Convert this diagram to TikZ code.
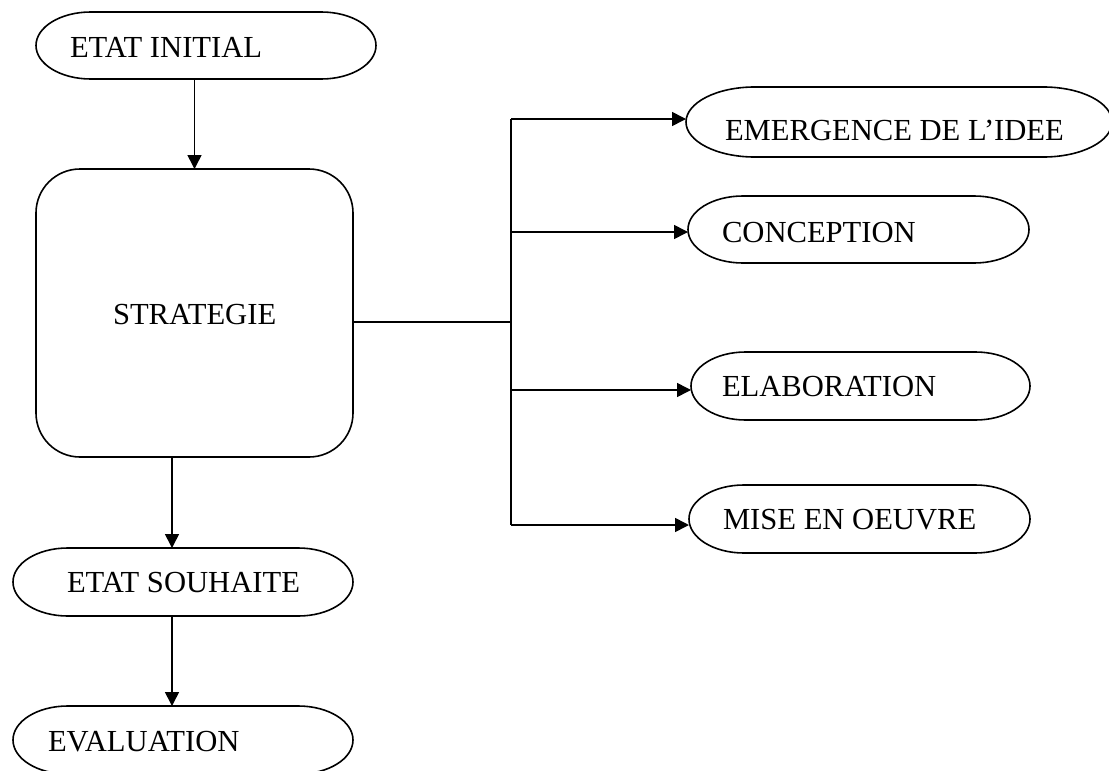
\documentclass[tikz,border=0pt]{standalone}
\usepackage{fontspec}
\setmainfont{Liberation Serif}
\usetikzlibrary{arrows.meta,calc}

\tikzset{
  term/.style={draw=none, rectangle, inner sep=0pt, outer sep=0pt},
  txt/.style={anchor=west, inner sep=0pt, outer sep=0pt, font=\fontsize{15.3}{18}\selectfont},
  wire/.style={line width=0.8pt, line join=miter},
  arr/.style={wire, -{Triangle[length=7pt,width=7pt]}},
  rbox/.style={draw, line width=0.8pt, rectangle, rounded corners=22pt, inner sep=0pt, outer sep=0pt},
}

% terminator node given by its corners (x1,y1) and (x2,y2)
\newcommand\termnode[5]{%
  \node[term, minimum width={(#4-#2)*0.5pt}, minimum height={(#5-#3)*0.5pt}]
    (#1) at ({(#2+#4)/2},{(#3+#5)/2}) {};%
}
% terminator outline: flat top and bottom, elliptical ends
\newcommand\termoutline[1]{%
  \draw[wire] let \p1=(#1.north west), \p2=(#1.south east),
      \n1={0.161*(\x2-\x1)}, \n2={(\y1-\y2)/2} in
    (\x1+\n1*1pt,\y1) -- (\x2-\n1*1pt,\y1)
    arc[start angle=90, end angle=-90, x radius=\n1*1pt, y radius=\n2*1pt]
    -- (\x1+\n1*1pt,\y2)
    arc[start angle=270, end angle=90, x radius=\n1*1pt, y radius=\n2*1pt]
    -- cycle;%
}

\begin{document}
\begin{tikzpicture}[x=0.5pt,y=-0.5pt]
  \useasboundingbox (0,0) rectangle (1109,771);

  % left column
  \termnode{ini}{36}{12}{376}{79}
  \node[rbox, minimum width=158.5pt, minimum height=144pt] (strat) at (194.5,313) {};
  \termnode{sou}{13}{548}{353}{616}
  \termnode{eval}{13}{706}{353}{774}

  % right column
  \termnode{emer}{686}{87}{1112}{157}
  \termnode{conc}{688}{196}{1029}{263}
  \termnode{elab}{691}{352}{1030}{420}
  \termnode{mise}{689}{485}{1030}{553}

  \termoutline{ini}
  \termoutline{sou}
  \termoutline{eval}
  \termoutline{emer}
  \termoutline{conc}
  \termoutline{elab}
  \termoutline{mise}

  % labels
  \node[txt] (t-ini)  at (70,47)   {ETAT INITIAL};
  \node[txt] (t-strat) at (113,315) {STRATEGIE};
  \node[txt] (t-sou)  at (67,583)  {ETAT SOUHAITE};
  \node[txt] (t-eval) at (48,742)  {EVALUATION};
  \node[txt] (t-emer) at (725,130) {EMERGENCE DE L’IDEE};
  \node[txt] (t-conc) at (722,233) {CONCEPTION};
  \node[txt] (t-elab) at (722,387) {ELABORATION};
  \node[txt] (t-mise) at (723,520) {MISE EN OEUVRE};

  % vertical flow
  \coordinate (vx) at (172,0);
  \draw[arr] (ini.south -| strat.north) -- (strat.north);
  \draw[arr] (strat.south -| vx) -- (sou.north -| vx);
  \draw[arr] (sou.south -| vx) -- (eval.north -| vx);

  % branching bus
  \coordinate (hub) at (511,322);
  \coordinate (b1) at (511,119);
  \coordinate (b2) at (511,232);
  \coordinate (b3) at (511,390);
  \coordinate (b4) at (511,525);
  \draw[wire] (strat.east |- hub) -- (hub);
  \draw[wire] (b1) -- (b4);
  \draw[arr] (b1) -- (b1 -| emer.west);
  \draw[arr] (b2) -- (b2 -| conc.west);
  \draw[arr] (b3) -- (b3 -| elab.west);
  \draw[arr] (b4) -- (b4 -| mise.west);
\end{tikzpicture}
\end{document}
